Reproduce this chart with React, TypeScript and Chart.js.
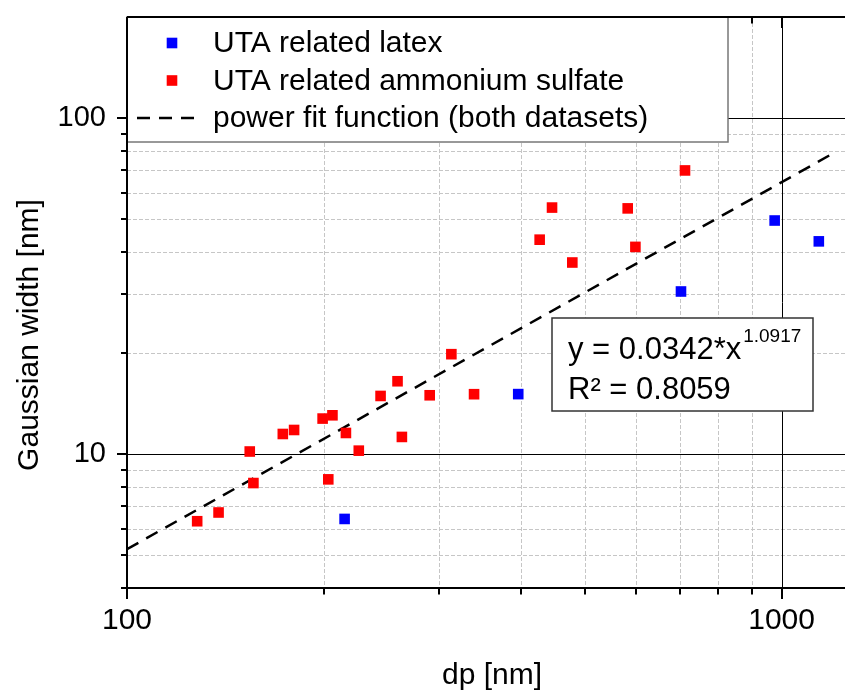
import React, { useEffect, useRef } from 'react';
import { Chart, registerables } from 'chart.js';

Chart.register(...registerables);

// ---- data ----
const latexLabel = 'UTA related latex';
const latexDp = [215, 396, 702, 976, 1140];
const latexWidth = [6.42, 15.1, 30.5, 49.6, 43.0];

const sulfateLabel = 'UTA related ammonium sulfate';
const sulfateDp = [128, 138, 154, 156, 173, 180, 199, 206, 203, 216, 226, 244, 259, 263, 290, 313, 339, 427, 446, 479, 582, 598, 712];
const sulfateWidth = [6.32, 6.71, 10.19, 8.21, 11.49, 11.81, 12.77, 13.06, 8.42, 11.57, 10.25, 14.91, 16.49, 11.26, 14.98, 19.85, 15.09, 43.5, 54.2, 37.2, 53.9, 41.4, 69.9];

const fitLabel = 'power fit function (both datasets)';
const fitDp = [100, 1185];
const fitWidth = [5.22, 77.6];

const xMajorTicks = [100, 1000];
const xMinorTicks = [200, 300, 400, 500, 600, 700, 800, 900];
const yMajorTicks = [10, 100];
const yMinorTicks = [4, 5, 6, 7, 8, 9, 20, 30, 40, 50, 60, 70, 80, 90];

const xTitle = 'dp [nm]';
const yTitle = 'Gaussian width [nm]';
const fitEquation = 'y = 0.0342*x';
const fitExponent = '1.0917';
const fitR2 = 'R² = 0.8059';

const FONT = '"Liberation Sans", Arial, sans-serif';

const decor = {
  id: 'decor',
  beforeDatasetsDraw(chart: any) {
    const { ctx, chartArea: a, scales } = chart;
    const x = scales.x, y = scales.y;
    ctx.save();
    ctx.beginPath();
    ctx.rect(a.left, a.top, a.right - a.left, a.bottom - a.top);
    ctx.clip();
    ctx.lineWidth = 1;
    ctx.strokeStyle = '#c6c6c6';
    ctx.setLineDash([4, 2]);
    for (const v of xMinorTicks) {
      const px = Math.round(x.getPixelForValue(v)) + 0.5;
      ctx.beginPath(); ctx.moveTo(px, a.top); ctx.lineTo(px, a.bottom); ctx.stroke();
    }
    for (const v of yMinorTicks) {
      const py = Math.round(y.getPixelForValue(v)) + 0.5;
      ctx.beginPath(); ctx.moveTo(a.left, py); ctx.lineTo(a.right, py); ctx.stroke();
    }
    ctx.setLineDash([]);
    ctx.strokeStyle = '#000';
    for (const v of xMajorTicks) {
      const px = Math.round(x.getPixelForValue(v)) + 0.5;
      ctx.beginPath(); ctx.moveTo(px, a.top); ctx.lineTo(px, a.bottom); ctx.stroke();
    }
    for (const v of yMajorTicks) {
      const py = Math.round(y.getPixelForValue(v)) + 0.5;
      ctx.beginPath(); ctx.moveTo(a.left, py); ctx.lineTo(a.right, py); ctx.stroke();
    }
    ctx.restore();
  },
  afterDatasetsDraw(chart: any) {
    const { ctx, chartArea: a, scales } = chart;
    const x = scales.x, y = scales.y;
    const ds = chart.data.datasets;
    ctx.save();

    // legend box
    const lx0 = a.left, lx1 = 728, ly0 = a.top, ly1 = 142;
    ctx.fillStyle = '#fff';
    ctx.fillRect(lx0, ly0, lx1 - lx0, ly1 - ly0);
    ctx.strokeStyle = '#777';
    ctx.lineWidth = 1.5;
    ctx.strokeRect(lx0, ly0, lx1 - lx0, ly1 - ly0);
    const rows = [43, 80.5, 118];
    ctx.font = `30px ${FONT}`;
    ctx.textBaseline = 'middle';
    ctx.textAlign = 'left';
    for (let i = 0; i < 3; i++) {
      const d = ds[i];
      const cy = rows[i];
      if (i < 2) {
        ctx.fillStyle = d.backgroundColor;
        ctx.fillRect(172 - 5.3, cy - 5.3, 10.6, 10.6);
      } else {
        ctx.strokeStyle = '#000';
        ctx.lineWidth = 2.5;
        ctx.setLineDash([13, 9]);
        ctx.beginPath(); ctx.moveTo(137, cy); ctx.lineTo(201, cy); ctx.stroke();
        ctx.setLineDash([]);
      }
      ctx.fillStyle = '#000';
      ctx.fillText(d.label, 213, cy + 1);
    }

    // fit annotation box
    ctx.fillStyle = '#fff';
    ctx.fillRect(552, 318, 261, 93);
    ctx.strokeStyle = '#333';
    ctx.lineWidth = 1.5;
    ctx.strokeRect(552, 318, 261, 93);
    ctx.fillStyle = '#000';
    ctx.textBaseline = 'alphabetic';
    ctx.font = `31px ${FONT}`;
    ctx.fillText(fitEquation, 568, 359);
    const w = ctx.measureText(fitEquation).width;
    ctx.font = `19px ${FONT}`;
    ctx.fillText(fitExponent, 568 + w + 2, 342);
    ctx.font = `31px ${FONT}`;
    ctx.fillText(fitR2, 568, 399);

    // axes frame
    ctx.strokeStyle = '#000';
    ctx.lineWidth = 2;
    ctx.beginPath();
    ctx.moveTo(a.left, a.top); ctx.lineTo(a.right, a.top);
    ctx.moveTo(a.left, a.top); ctx.lineTo(a.left, a.bottom);
    ctx.moveTo(a.left - 1, a.bottom); ctx.lineTo(a.right, a.bottom);
    ctx.stroke();

    // ticks
    const tick = (x0: number, y0: number, x1: number, y1: number) => {
      ctx.beginPath(); ctx.moveTo(x0, y0); ctx.lineTo(x1, y1); ctx.stroke();
    };
    for (const v of xMajorTicks) {
      const px = Math.round(x.getPixelForValue(v));
      tick(px, a.bottom, px, a.bottom + 11);
      tick(px, a.top, px, a.top + 11);
    }
    for (const v of xMinorTicks) {
      const px = Math.round(x.getPixelForValue(v));
      tick(px, a.bottom, px, a.bottom + 6.5);
      if (px > lx1) tick(px, a.top, px, a.top + 6.5);
    }
    for (const v of yMajorTicks) {
      const py = Math.round(y.getPixelForValue(v));
      tick(a.left, py, a.left - 10, py);
    }
    for (const v of yMinorTicks) {
      const py = Math.round(y.getPixelForValue(v));
      tick(a.left, py, a.left - 6, py);
    }

    // axis titles
    ctx.fillStyle = '#000';
    ctx.font = `30px ${FONT}`;
    ctx.textAlign = 'center';
    ctx.textBaseline = 'alphabetic';
    ctx.fillText(xTitle, 492, 684);
    ctx.translate(38, 335);
    ctx.rotate(-Math.PI / 2);
    ctx.fillText(yTitle, 0, 0);
    ctx.restore();
  },
};

const zeroPad = (s: any) => {
  s.paddingTop = 0; s.paddingBottom = 0; s.paddingLeft = 0; s.paddingRight = 0;
};

export default function App() {
  const ref = useRef<HTMLCanvasElement>(null);
  useEffect(() => {
    const latex = latexDp.map((v, i) => ({ x: v, y: latexWidth[i] }));
    const sulfate = sulfateDp.map((v, i) => ({ x: v, y: sulfateWidth[i] }));
    const fit = fitDp.map((v, i) => ({ x: v, y: fitWidth[i] }));
    const chart = new Chart(ref.current as HTMLCanvasElement, {
      type: 'scatter',
      data: {
        datasets: [
          {
            label: latexLabel, data: latex, backgroundColor: '#0000ff', borderColor: '#0000ff',
            pointStyle: 'rect', pointRadius: 7.5, borderWidth: 0, order: 0,
          },
          {
            label: sulfateLabel, data: sulfate, backgroundColor: '#ff0000', borderColor: '#ff0000',
            pointStyle: 'rect', pointRadius: 7.5, borderWidth: 0, order: 1,
          },
          {
            type: 'line', label: fitLabel, data: fit, borderColor: '#000', backgroundColor: '#000',
            borderWidth: 2.5, borderDash: [13, 9], pointRadius: 0, showLine: true, fill: false, order: 2,
          } as any,
        ],
      },
      options: {
        responsive: false,
        animation: false,
        events: [],
        layout: { autoPadding: false, padding: { top: 17, right: 0, left: 0, bottom: 0 } },
        plugins: { legend: { display: false }, tooltip: { enabled: false } },
        scales: {
          x: {
            type: 'logarithmic', min: 100, max: 1250, position: 'bottom',
            grid: { display: false, drawTicks: false }, border: { display: false },
            afterBuildTicks: (s: any) => { s.ticks = xMajorTicks.map((v) => ({ value: v })); },
            afterFit: (s: any) => { s.height = 105; zeroPad(s); },
            ticks: {
              autoSkip: false, maxRotation: 0, padding: 15, color: '#000',
              font: { family: FONT, size: 30 },
              callback: (v: any) => String(v),
            },
          },
          y: {
            type: 'logarithmic', min: 4, max: 200, position: 'left',
            grid: { display: false, drawTicks: false }, border: { display: false },
            afterBuildTicks: (s: any) => { s.ticks = yMajorTicks.map((v) => ({ value: v })); },
            afterFit: (s: any) => { s.width = 127; zeroPad(s); },
            ticks: {
              autoSkip: false, padding: 21, color: '#000',
              font: { family: FONT, size: 29 },
              callback: (v: any) => String(v),
            },
          },
        },
      } as any,
      plugins: [decor],
    });
    return () => chart.destroy();
  }, []);
  return (
    <div style={{ position: 'fixed', left: 0, top: 0, width: 845, height: 693, background: '#fff' }}>
      <canvas ref={ref} width={845} height={693} style={{ display: 'block' }} />
    </div>
  );
}
